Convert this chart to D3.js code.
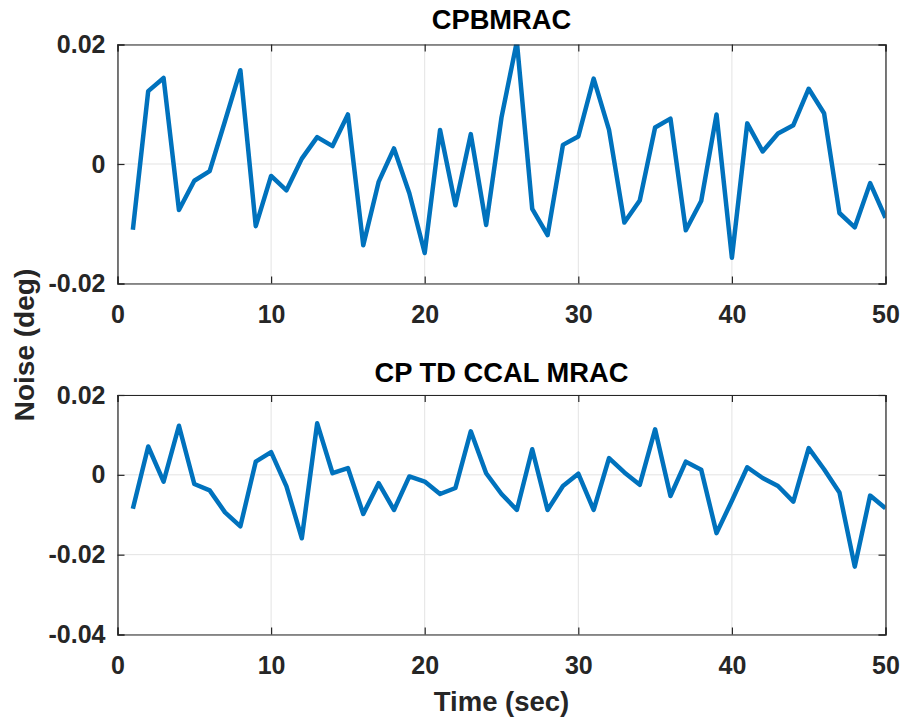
<!DOCTYPE html>
<html><head><meta charset="utf-8">
<script src="https://cdn.jsdelivr.net/npm/d3@7"></script>
<style>
body{margin:0;background:#fff;}
text{font-family:"Liberation Sans",Arial,Helvetica,sans-serif;font-weight:bold;fill:#262626;}
</style></head>
<body><svg id="c" width="902" height="721"></svg>
<script>
const time = d3.range(1, 51);
const cpbmrac = [-0.0110,0.0122,0.0144,-0.0077,-0.0028,-0.0012,0.0072,0.0157,-0.0104,-0.0020,
 -0.0044,0.0009,0.0045,0.0030,0.0083,-0.0136,-0.0030,0.0026,-0.0049,-0.0149,
 0.0057,-0.0069,0.0050,-0.0102,0.0078,0.0205,-0.0075,-0.0119,0.0032,0.0046,
 0.0143,0.0057,-0.0098,-0.0061,0.0061,0.0076,-0.0111,-0.0062,0.0083,-0.0157,
 0.0068,0.0021,0.0051,0.0065,0.0126,0.0085,-0.0082,-0.0106,-0.0032,-0.0090];
const cptdccal = [-0.0085,0.0071,-0.0017,0.0123,-0.0023,-0.0039,-0.0094,-0.0129,0.0033,0.0057,
 -0.0029,-0.0159,0.0129,0.0004,0.0017,-0.0098,-0.0021,-0.0088,-0.0004,-0.0017,
 -0.0048,-0.0033,0.0109,0.0004,-0.0048,-0.0088,0.0064,-0.0088,-0.0028,0.0003,
 -0.0088,0.0042,0.0006,-0.0025,0.0114,-0.0053,0.0033,0.0013,-0.0146,-0.0065,
 0.0019,-0.0008,-0.0028,-0.0067,0.0067,0.0014,-0.0044,-0.0230,-0.0052,-0.0084];
const xTicks = [0,10,20,30,40,50];
const yTicks1 = [-0.02,0,0.02];
const yTicks2 = [-0.04,-0.02,0,0.02];
const titles = ["CPBMRAC","CP TD CCAL MRAC"];
const xLabel = "Time (sec)";
const yLabel = "Noise (deg)";

const svg = d3.select("#c");
const L = 117.5, R = 885.5;
const panels = [
  {top:44.5, bottom:283.5, dom:[-0.02,0.02], ticks:yTicks1, data:cpbmrac, title:titles[0], ty:29},
  {top:395, bottom:634.5, dom:[-0.04,0.02], ticks:yTicks2, data:cptdccal, title:titles[1], ty:382}
];
const x = d3.scaleLinear().domain([0,50]).range([L,R]);
const fmt = v => v===0 ? "0" : (v<0 ? "-" : "") + Math.abs(v).toFixed(2);

panels.forEach((p,i)=>{
  const y = d3.scaleLinear().domain(p.dom).range([p.bottom,p.top]);
  const g = svg.append("g");
  const W = R-L, H = p.bottom-p.top;
  g.selectAll(".gx").data(xTicks).enter().append("line")
    .attr("x1",d=>x(d)).attr("x2",d=>x(d)).attr("y1",p.top).attr("y2",p.bottom)
    .attr("stroke","#e3e3e3").attr("stroke-width",1);
  g.selectAll(".gy").data(p.ticks).enter().append("line")
    .attr("x1",L).attr("x2",R).attr("y1",d=>y(d)).attr("y2",d=>y(d))
    .attr("stroke","#e3e3e3").attr("stroke-width",1);
  svg.append("clipPath").attr("id","clip"+i).append("rect")
    .attr("x",L).attr("y",p.top).attr("width",W).attr("height",H);
  g.append("path").datum(p.data)
    .attr("clip-path","url(#clip"+i+")")
    .attr("fill","none").attr("stroke","#0072BD").attr("stroke-width",4.5)
    .attr("stroke-linejoin","round")
    .attr("d", d3.line().x((d,j)=>x(time[j])).y(d=>y(d)));
  const ax = svg.append("g");
  const bottomAxis = d3.axisBottom(x).tickValues(xTicks).tickSize(-7).tickPadding(22).tickFormat(d3.format("d"));
  ax.append("g").attr("transform",`translate(0,${p.bottom})`).call(bottomAxis);
  const topAxis = d3.axisTop(x).tickValues(xTicks).tickSize(-7).tickFormat("");
  ax.append("g").attr("transform",`translate(0,${p.top})`).call(topAxis);
  const leftAxis = d3.axisLeft(y).tickValues(p.ticks).tickSize(-7).tickPadding(12).tickFormat(fmt);
  ax.append("g").attr("transform",`translate(${L},0)`).call(leftAxis);
  const rightAxis = d3.axisRight(y).tickValues(p.ticks).tickSize(-7).tickFormat("");
  ax.append("g").attr("transform",`translate(${R},0)`).call(rightAxis);
  ax.selectAll("path.domain").attr("stroke","#262626").attr("stroke-width",1.2);
  ax.selectAll(".tick line").attr("stroke","#262626").attr("stroke-width",1.2);
  ax.selectAll("text").attr("font-size",25).attr("font-family","Liberation Sans, Arial, sans-serif")
    .attr("font-weight","bold").attr("fill","#262626");
  svg.append("text").attr("x",(L+R)/2).attr("y",p.ty).attr("text-anchor","middle")
    .attr("font-size",27.3).style("fill","#000").text(p.title);
});
svg.append("text").attr("x",(L+R)/2).attr("y",711).attr("text-anchor","middle")
  .attr("font-size",27.5).text(xLabel);
svg.append("text").attr("transform",`translate(34,345) rotate(-90)`).attr("text-anchor","middle")
  .attr("font-size",28).text(yLabel);
</script></body></html>
